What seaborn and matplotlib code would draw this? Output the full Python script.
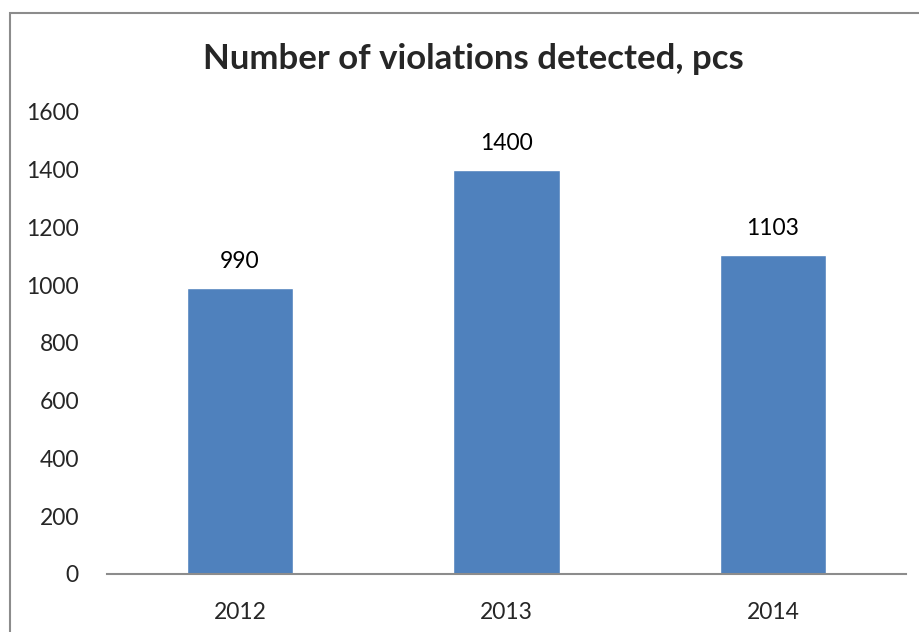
import numpy as np
import pandas as pd
import matplotlib
matplotlib.use("Agg")
import matplotlib.pyplot as plt
import seaborn as sns

# === Data ===
years = ["2012", "2013", "2014"]
violations = [990, 1400, 1103]
y_ticks = [0, 200, 400, 600, 800, 1000, 1200, 1400, 1600]

df = pd.DataFrame({"Year": years, "Violations": violations})

sns.set_style("white")
plt.rcParams['font.family'] = ['Lato', 'DejaVu Sans']

fig = plt.figure(figsize=(9.2, 6.32), dpi=100)
ax = fig.add_axes([0.116, 0.092, 0.869, 0.731])

bar_color = "#4F81BD"
sns.barplot(data=df, x="Year", y="Violations", color=bar_color, width=0.4,
            saturation=1, ax=ax)

# value labels above bars
for i, v in enumerate(violations):
    ax.text(i, v + 55, str(v), ha='center', va='bottom', fontsize=16.5, color='black')

ax.set_ylim(0, 1600)
ax.set_yticks(y_ticks)
ax.set_yticklabels([str(t) for t in y_ticks], fontsize=16.5)
ax.set_xticks(range(len(years)))
ax.set_xticklabels(years, fontsize=16.5)
ax.set_xlabel("")
ax.set_ylabel("")
ax.tick_params(axis='y', length=0, pad=20)
ax.tick_params(axis='x', length=0, pad=20)

for s in ['top', 'right', 'left']:
    ax.spines[s].set_visible(False)
ax.spines['bottom'].set_color('#8c8c8c')
ax.spines['bottom'].set_linewidth(1.5)

fig.text(0.515, 0.907, "Number of violations detected, pcs", ha='center', va='center',
         fontsize=25, fontweight='bold')

# outer chart border
border = plt.Rectangle((0.011, -0.05), 1.2, 1.03, transform=fig.transFigure,
                       fill=False, edgecolor='#8c8c8c', linewidth=1.5)
fig.patches.append(border)

fig.savefig("out.png", dpi=100, facecolor='white')
